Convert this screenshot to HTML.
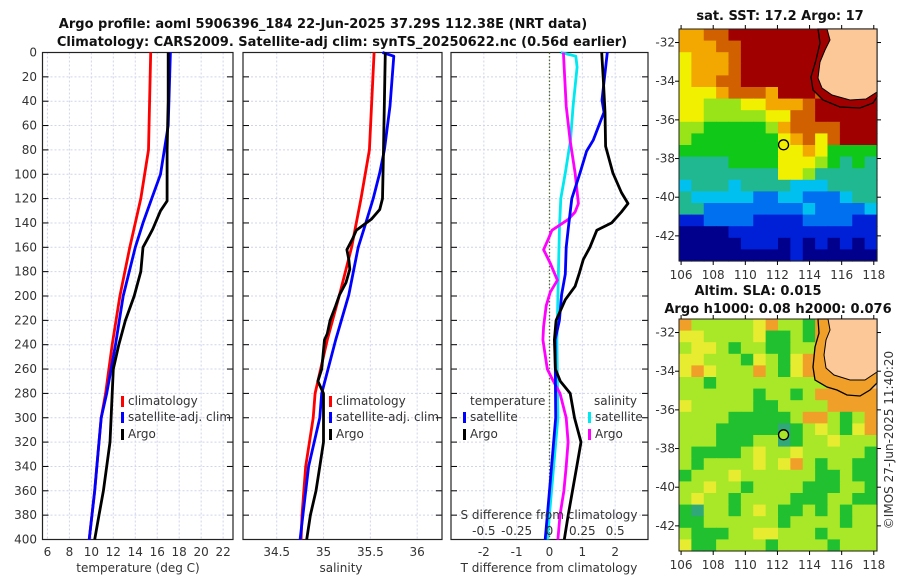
<!DOCTYPE html>
<html><head><meta charset="utf-8">
<style>
html,body{margin:0;padding:0;background:#fff;}
svg{display:block;font-family:"DejaVu Sans","Liberation Sans",sans-serif;}
.t{font-size:12px;fill:#333;}
.b{font-size:13px;font-weight:bold;fill:#111;}
</style></head>
<body>
<svg id="fig" width="900" height="580" viewBox="0 0 900 580" xmlns="http://www.w3.org/2000/svg">
<text class="b" x="323" y="28" text-anchor="middle">Argo profile: aoml 5906396_184 22-Jun-2025 37.29S 112.38E (NRT data)</text>
<text class="b" x="342" y="46" text-anchor="middle">Climatology: CARS2009. Satellite-adj clim: synTS_20250622.nc (0.56d earlier)</text>
<g id="panels"></g>
<g id="maps"></g>
<text class="b" x="780" y="20" text-anchor="middle">sat. SST: 17.2 Argo: 17</text>
<text class="b" x="758" y="295" text-anchor="middle">Altim. SLA: 0.015</text>
<text class="b" x="778" y="313" text-anchor="middle">Argo h1000: 0.08 h2000: 0.076</text>
<text class="t" transform="translate(893,440) rotate(-90)" text-anchor="middle">©IMOS 27-Jun-2025 11:40:20</text>
</svg>
<script>
// ---- profile data ----
const depthTicks=[0,20,40,60,80,100,120,140,160,180,200,220,240,260,280,300,320,340,360,380,400];
const tempTicks=[6,8,10,12,14,16,18,20,22];
const salTicks=[34.5,35,35.5,36];
const salTickLabels=["34.5","35","35.5","36"];
const tdTicks=[-2,-1,0,1,2];
const sdTicks=[-0.5,-0.25,0,0.25,0.5];
const sdTickLabels=["-0.5","-0.25","0","0.25","0.5"];

const tClimD=[0,80,120,160,200,240,280,300,320,360,400];
const tClimV=[15.4,15.2,14.5,13.5,12.6,11.9,11.3,10.9,10.7,10.3,9.8];
const tSatD=[0,60,100,120,140,160,200,240,280,300,320,360,400];
const tSatV=[17.2,17.0,16.3,15.5,14.7,14.0,12.9,12.2,11.4,10.9,10.7,10.3,9.8];
const tArgoD=[0,40,80,122,130,145,150,160,180,200,220,240,260,280,300,320,340,360,380,400];
const tArgoV=[17.0,17.0,16.9,16.9,16.3,15.6,15.3,14.7,14.5,13.9,13.1,12.5,12.0,11.9,11.8,11.7,11.4,11.1,10.7,10.3];

const sClimD=[0,80,120,160,199,236,280,300,340,380,400];
const sClimV=[35.54,35.49,35.40,35.30,35.17,35.04,34.91,34.89,34.81,34.77,34.76];
const sSatD=[0,3,44,80,99,120,143,160,199,236,280,300,340,380,400];
const sSatV=[35.63,35.75,35.71,35.65,35.60,35.53,35.44,35.37,35.27,35.13,34.98,34.96,34.84,34.78,34.75];
const sArgoD=[0,80,120,129,137,146,153,162,170,178,189,199,208,220,231,236,260,270,280,300,320,340,360,380,400];
const sArgoV=[35.66,35.64,35.63,35.60,35.51,35.35,35.31,35.25,35.27,35.28,35.24,35.17,35.13,35.07,35.04,35.01,34.98,34.94,35.0,35.0,35.0,34.96,34.92,34.86,34.82];

const dTSatD=[0,39,49,72,81,99,120,143,160,182,199,220,236,300,360,400];
const dTSatV=[1.76,1.6,1.66,1.33,1.13,0.93,0.68,0.58,0.51,0.48,0.37,0.3,0.17,0.19,0.0,-0.13];
const dTArgoD=[0,22,49,77,99,115,124,131,140,146,160,170,181,192,203,220,236,260,270,280,300,320,340,360,380,400];
const dTArgoV=[1.59,1.64,1.69,1.71,1.93,2.19,2.39,2.19,1.89,1.44,1.23,1.03,0.91,0.78,0.48,0.2,0.15,0.18,0.33,0.63,0.76,0.96,0.83,0.7,0.57,0.45];
const dSSatD=[0,3,12,44,72,99,120,143,181,220,236,300,400];
const dSSatV=[0.086,0.2,0.21,0.18,0.16,0.12,0.086,0.076,0.068,0.06,0.056,0.064,-0.017];
const dSArgoD=[0,44,72,99,124,131,137,146,153,162,173,187,197,208,225,236,260,270,280,300,320,340,360,380,400];
const dSArgoV=[0.106,0.127,0.157,0.195,0.22,0.195,0.144,0.018,-0.008,-0.045,0.005,0.06,0.005,-0.025,-0.045,-0.05,-0.017,0.03,0.08,0.127,0.142,0.127,0.11,0.08,0.064];

// ---- map data (jet colour index 0-10, L=land) ----
const sstGrid=[
"8899RRRRRRRRLLLL","88899RRRRRRRLLLL","78889RRRRRRRLLLL","78889RRRRRRRLLLL","78899RRRRRRRLLLL",
"77789998RRR9RLLL","77666778889RRRRR","77666667799RRRRR","6655555689999RRR","6555555578979RRR",
"5555555577875555","4444555577765454","4444444477644444","3444344443334444","4333332233222344",
"4422222222322223","1122221111222211","0000111111111111","0000011101010101","0000000001000000"];
const slaGrid=[
"8666667866586LLL","7766667556586LLL","6776566556686LLL","7766657657886LLL","7876668657886LLL",
"6656666666668LLL","6666665665688888","7666665566668888","6666555556886568","6665555545676578",
"6665556645667666","6555567667666665","6566667678656655","5666766666655655","6676656666555665",
"6766566665556655","5466567655656566","5566666656666566","6555667766656666","7556666566665666"];
const sstLat=[-32,-34,-36,-38,-40,-42];
const mapLon=[106,108,110,112,114,116,118];
const argoLon=[112.38];
const argoLat=[-37.29];

const NS="http://www.w3.org/2000/svg";
function el(tag,attrs,parent){const e=document.createElementNS(NS,tag);for(const k in attrs)e.setAttribute(k,attrs[k]);(parent||document.getElementById('fig')).appendChild(e);return e;}
function txt(s,x,y,anchor,parent,cls){const e=el('text',{x:x,y:y,'text-anchor':anchor||'middle',class:cls||'t'},parent);e.textContent=s;return e;}

const Y0=52.5,Y1=539.5;
const yD=d=>Y0+(Y1-Y0)*d/400;
const panelsG=document.getElementById('panels');

function panel(name,x0,x1,vmin,vmax,ticks,labels,showY){
  const g=el('g',{},panelsG);
  
  
  const sx=v=>x0+(x1-x0)*(v-vmin)/(vmax-vmin);
  depthTicks.forEach(d=>{const l=el('line',{x1:x0,x2:x1,y1:yD(d),y2:yD(d),stroke:'#d0d4ec','stroke-width':1,'stroke-dasharray':'2,2'},g);
    });
  ticks.forEach((v,i)=>{const l=el('line',{x1:sx(v),x2:sx(v),y1:Y0,y2:Y1,stroke:'#d0d4ec','stroke-width':1,'stroke-dasharray':'2,2'},g);
    
    const t=txt(labels[i],sx(v),556,'middle',g);
    });
  depthTicks.forEach(d=>{
    el('line',{x1:x0,x2:x0+6,y1:yD(d),y2:yD(d),stroke:'#000','stroke-width':1},g);
    el('line',{x1:x1-6,x2:x1,y1:yD(d),y2:yD(d),stroke:'#000','stroke-width':1},g);
    if(showY){const t=txt(String(d),37,yD(d)+4,'end',g);
      }
  });
  const r=el('rect',{x:x0,y:Y0,width:x1-x0,height:Y1-Y0,fill:'none',stroke:'#222','stroke-width':1.2},g);
  
  return {g,sx};
}
function line(p,sx,D,V,color,name){
  const pts=D.map((d,i)=>sx(V[i]).toFixed(1)+','+yD(d).toFixed(1)).join(' ');
  const l=el('polyline',{points:pts,fill:'none',stroke:color,'stroke-width':2.8,'stroke-linejoin':'round'},p.g);
  
  
}
function legend(g,x,y,color,label){
  el('rect',{x:x,y:y-9,width:3,height:11,fill:color},g);
  const t=txt(label,x+7,y,'start',g);
  
  
}

const p1=panel('temperature-panel',42.5,233,5.55,22.9,tempTicks,tempTicks.map(String),true);
line(p1,p1.sx,tClimD,tClimV,'#ff0000','temp-climatology-line');
line(p1,p1.sx,tSatD,tSatV,'#0000ff','temp-satellite-line');
line(p1,p1.sx,tArgoD,tArgoV,'#000000','temp-argo-line');
legend(p1.g,121,405,'#ff0000','climatology');legend(p1.g,121,421,'#0000ff','satellite-adj. clim');legend(p1.g,121,438,'#000000','Argo');
let t=txt('temperature (deg C)',138,572,'middle',p1.g);

const p2=panel('salinity-panel',243,442,34.14,36.265,salTicks,salTickLabels,false);
line(p2,p2.sx,sClimD,sClimV,'#ff0000','sal-climatology-line');
line(p2,p2.sx,sSatD,sSatV,'#0000ff','sal-satellite-line');
line(p2,p2.sx,sArgoD,sArgoV,'#000000','sal-argo-line');
legend(p2.g,329,405,'#ff0000','climatology');legend(p2.g,329,421,'#0000ff','satellite-adj. clim');legend(p2.g,329,438,'#000000','Argo');
t=txt('salinity',341,572,'middle',p2.g);

const p3=panel('difference-panel',451,648,-3,3,tdTicks,tdTicks.map(String),false);
const sxS=v=>p3.sx(v*4);
el('line',{x1:p3.sx(0),x2:p3.sx(0),y1:Y0,y2:Y1,stroke:'#556b2f','stroke-width':1.3,'stroke-dasharray':'1.5,2'},p3.g);
line(p3,sxS,dSSatD,dSSatV,'#00e8f0','sdiff-satellite-line');
line(p3,sxS,dSArgoD,dSArgoV,'#ff00ff','sdiff-argo-line');
line(p3,p3.sx,dTSatD,dTSatV,'#0000ff','tdiff-satellite-line');
line(p3,p3.sx,dTArgoD,dTArgoV,'#000000','tdiff-argo-line');
t=txt('temperature',470,405,'start',p3.g);
t=txt('salinity',594,405,'start',p3.g);
legend(p3.g,463,421,'#0000ff','satellite');legend(p3.g,463,438,'#000000','Argo');
legend(p3.g,588,421,'#00e8f0','satellite');legend(p3.g,588,438,'#ff00ff','Argo');
t=txt('S difference from climatology',549,519,'middle',p3.g);
sdTicks.forEach((v,i)=>{const e=txt(sdTickLabels[i],sxS(v),535,'middle',p3.g);});
t=txt('T difference from climatology',549,572,'middle',p3.g);

const jet={'0':'#00008c','1':'#0020d8','2':'#0070f0','3':'#00c0f0','4':'#20b890','5':'#10c818','6':'#98e418','7':'#f0f000','8':'#f2a800','9':'#d06000','R':'#a00000','L':'#fcc898'};
const slaCol={'4':'#30a878','5':'#20c030','6':'#a8e828','7':'#e8ec30','8':'#f0a028','L':'#fcc898'};
const mapsG=document.getElementById('maps');
function drawMap(name,grid,cols,top,bottom,latTop,latBot,lonTickY,land,coast,bandCol,dotFill){
  const X0=679,X1=877,lonMin=105.87,lonMax=118.2;
  const g=el('g',{},mapsG);
  
  
  const nr=grid.length,nc=grid[0].length,cw=(X1-X0)/nc,ch=(bottom-top)/nr;
  grid.forEach((row,r)=>{for(let c=0;c<nc;c++){
    const k=row[c];const col=(k==='L')?jet.L:(cols[k]||jet[k]);
    const cell=el('rect',{x:(X0+c*cw).toFixed(2),y:(top+r*ch).toFixed(2),width:(cw+0.6).toFixed(2),height:(ch+0.6).toFixed(2),fill:col},g);
    
    
  }});
  el('polygon',{points:coast,fill:bandCol,stroke:'#000','stroke-width':1.3},g);
  el('polygon',{points:land,fill:'#fcc898',stroke:'#000','stroke-width':1},g);
  const sx=l=>X0+(X1-X0)*(l-lonMin)/(lonMax-lonMin);
  const sy=l=>top+(bottom-top)*(latTop-l)/(latTop-latBot);
  const dot=el('circle',{cx:sx(argoLon[0]),cy:sy(argoLat[0]),r:5,fill:dotFill,stroke:'#000','stroke-width':1.3},g);
  
  
  el('rect',{x:X0,y:top,width:X1-X0,height:bottom-top,fill:'none',stroke:'#222','stroke-width':1},g);
  sstLat.forEach(l=>{el('line',{x1:X0-4,x2:X0,y1:sy(l),y2:sy(l),stroke:'#000'},g);el('line',{x1:X1,x2:X1+4,y1:sy(l),y2:sy(l),stroke:'#000'},g);
    const e=txt(String(l),X0-4,sy(l)+4,'end',g);});
  mapLon.forEach(l=>{el('line',{x1:sx(l),x2:sx(l),y1:bottom,y2:bottom+4,stroke:'#000'},g);el('line',{x1:sx(l),x2:sx(l),y1:top-4,y2:top,stroke:'#000'},g);
    const e=txt(String(l),sx(l),lonTickY,'middle',g);});
}
drawMap('sst-map',sstGrid,{},29,261,-31.3,-43.3,279,
 "827,29 830,40 825,50 820,62 818,78 822,88 832,95 850,100 866,99 877,92 877,29",
 "818,29 820,43 816,60 811,77 813,90 823,100 840,107 860,108 873,103 877,97 877,29",'#a00000','none');
drawMap('sla-map',slaGrid,slaCol,319,551,-31.3,-43.3,569,
 "828,319 830,330 826,340 824,355 826,368 834,375 850,380 865,380 877,372 877,319",
 "818,319 819,333 815,347 813,367 815,380 827,387 837,390 847,395 860,396 870,390 877,383 877,319",'#f0a028','#a8e428');
</script>
</body></html>
